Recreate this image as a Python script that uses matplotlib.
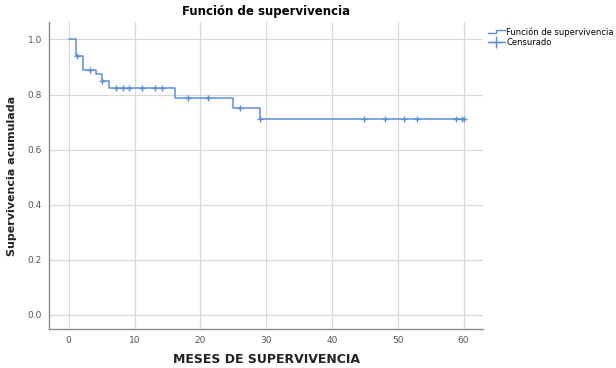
import matplotlib
matplotlib.use("Agg")
import matplotlib.pyplot as plt
from matplotlib.lines import Line2D
from matplotlib.legend_handler import HandlerBase

# Data
step_times = [0, 1.1, 2.2, 4.1, 5.1, 6.1, 16.1, 25.0, 29.0, 60]
step_surv = [1.0, 0.94, 0.89, 0.876, 0.849, 0.823, 0.789, 0.752, 0.712, 0.712]
censor_times = [1.2, 3.2, 5.1, 7.2, 8.2, 9.2, 11.2, 13.1, 14.2, 18.1, 21.1, 26.0,
                29.0, 44.9, 48.0, 50.9, 52.9, 58.9, 59.8, 60.0]
x_ticks = [0, 10, 20, 30, 40, 50, 60]
y_ticks = [0.0, 0.2, 0.4, 0.6, 0.8, 1.0]

title = "Función de supervivencia"
xlabel = "MESES DE SUPERVIVENCIA"
ylabel = "Supervivencia acumulada"
legend_labels = ["Función de supervivencia", "Censurado"]

blue = "#5a8fd8"
grid_c = "#d9d9d9"
spine_c = "#8c8c8c"
tick_c = "#555555"


def surv_at(t):
    s = step_surv[0]
    for tt, ss in zip(step_times, step_surv):
        if t >= tt:
            s = ss
    return s


censor_surv = [surv_at(t) for t in censor_times]

fig = plt.figure(figsize=(6.16, 3.68), dpi=100)
ax = fig.add_axes([0.0795, 0.106, 0.705, 0.834])

ax.step(step_times, step_surv, where="post", color=blue, lw=1.1, zorder=3)
ax.plot(censor_times, censor_surv, linestyle="none", marker="+", ms=4.5,
        mew=1.0, color=blue, zorder=4)

ax.set_xlim(-3.0, 63.0)
ax.set_ylim(-0.051, 1.063)
ax.set_xticks(x_ticks)
ax.set_yticks(y_ticks)
ax.set_xticklabels([str(v) for v in x_ticks])
ax.set_yticklabels([f"{v:.1f}" for v in y_ticks])
ax.grid(True, color=grid_c, lw=0.9, zorder=0)
ax.set_axisbelow(True)
for s in ["top", "right"]:
    ax.spines[s].set_visible(False)
for s in ["left", "bottom"]:
    ax.spines[s].set_color(spine_c)
    ax.spines[s].set_linewidth(1.0)
ax.tick_params(axis="both", length=0, pad=5, labelsize=6.5, colors=tick_c)

ax.set_title(title, fontsize=8.5, fontweight="bold", pad=5)
ax.set_xlabel(xlabel, fontsize=9, fontweight="bold", labelpad=6, color="#222222")
ax.set_ylabel(ylabel, fontsize=8, fontweight="bold", labelpad=8, color="#222222")


class StepHandler(HandlerBase):
    def create_artists(self, legend, orig_handle, xdescent, ydescent, width,
                       height, fontsize, trans):
        x0, x1 = -xdescent, -xdescent + width
        ym = height / 2 - ydescent
        xs = [x0, x0 + width * 0.45, x0 + width * 0.45, x1]
        ys = [ym - height * 0.2, ym - height * 0.2, ym + height * 0.35, ym + height * 0.35]
        ln = Line2D(xs, ys, color=blue, lw=1.0, transform=trans)
        return [ln]


h1 = Line2D([], [], color=blue)
h2 = Line2D([], [], color=blue, lw=1.0, marker="+", ms=9, mew=1.0)
leg = fig.legend([h1, h2], legend_labels, loc="upper left",
                 bbox_to_anchor=(0.787, 0.935), frameon=False, fontsize=6.0,
                 handler_map={h1: StepHandler()}, handlelength=2.0,
                 handletextpad=0.2, labelspacing=0.15, borderaxespad=0)

fig.savefig("out.png", dpi=100)
